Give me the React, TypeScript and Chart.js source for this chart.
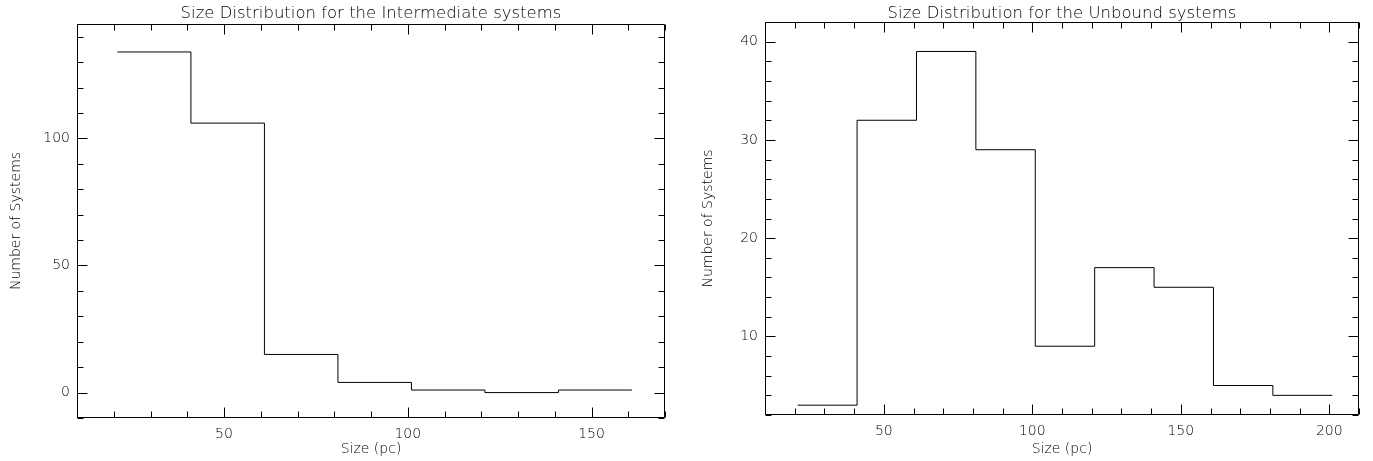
import React, { useEffect, useRef } from 'react';
import { Chart, registerables } from 'chart.js';

Chart.register(...registerables);

// ---- Data ----
const binEdgesIntermediate = [21, 41, 61, 81, 101, 121, 141, 161];
const countsIntermediate = [134, 106, 15, 4, 1, 0, 1];

const binEdgesUnbound = [21, 41, 61, 81, 101, 121, 141, 161, 181, 201];
const countsUnbound = [3, 32, 39, 29, 9, 17, 15, 5, 4];

const xTicksIntermediate = [50, 100, 150];
const yTicksIntermediate = [0, 50, 100];
const xTicksUnbound = [50, 100, 150, 200];
const yTicksUnbound = [10, 20, 30, 40];

const titleIntermediate = 'Size Distribution for the Intermediate systems';
const titleUnbound = 'Size Distribution for the Unbound systems';
const xAxisTitle = 'Size (pc)';
const yAxisTitle = 'Number of Systems';

const FONT = '"DejaVu Sans", sans-serif';
const TEXT = '#000';
const H = 461;

const framePlugin = {
  id: 'idlFrame',
  afterDraw(chart: any, _args: any, opts: any) {
    const { ctx, chartArea } = chart;
    const xs = chart.scales.x;
    const ys = chart.scales.y;
    const L = Math.round(chartArea.left) + 0.5;
    const R = Math.round(chartArea.right) - 0.5;
    const T = Math.round(chartArea.top) + 0.5;
    const B = Math.round(chartArea.bottom) - 0.5;
    ctx.save();
    ctx.strokeStyle = '#000';
    ctx.lineWidth = 1;
    ctx.beginPath();
    ctx.rect(L, T, R - L, B - T);
    const isMajor = (v: number, step: number) => Math.abs(v / step - Math.round(v / step)) < 1e-6;
    for (let v = Math.ceil(xs.min / opts.xMinor) * opts.xMinor; v <= xs.max + 1e-9; v += opts.xMinor) {
      const p = Math.round(xs.getPixelForValue(v)) + 0.5;
      const len = isMajor(v, opts.xMajor) ? 10 : 6;
      ctx.moveTo(p, B); ctx.lineTo(p, B - len);
      ctx.moveTo(p, T); ctx.lineTo(p, T + len);
    }
    for (let v = Math.ceil(ys.min / opts.yMinor) * opts.yMinor; v <= ys.max + 1e-9; v += opts.yMinor) {
      const p = Math.round(ys.getPixelForValue(v)) + 0.5;
      const len = isMajor(v, opts.yMajor) ? 10 : 6;
      ctx.moveTo(L, p); ctx.lineTo(L + len, p);
      ctx.moveTo(R, p); ctx.lineTo(R - len, p);
    }
    ctx.stroke();
    ctx.restore();
  },
};

type PanelProps = {
  title: string;
  edges: number[];
  counts: number[];
  xRange: [number, number];
  yRange: [number, number];
  xTicks: number[];
  yTicks: number[];
  xMinor: number;
  xMajor: number;
  yMinor: number;
  yMajor: number;
  canvasLeft: number;
  canvasWidth: number;
  areaLeft: number;
  areaRight: number;
  areaTop: number;
  areaBottom: number;
  yTitleX: number;
};

function Panel(p: PanelProps) {
  const ref = useRef<HTMLCanvasElement | null>(null);
  useEffect(() => {
    if (!ref.current) return;
    const points = p.counts.map((c, i) => ({ x: p.edges[i], y: c }));
    points.push({ x: p.edges[p.counts.length], y: p.counts[p.counts.length - 1] });
    const tickFont = { family: FONT, size: 14, lineHeight: 1.2, weight: '200' };
    const axisTitleFont = { family: FONT, size: 14, lineHeight: 1.2, weight: '200' };
    const mainTitleFont = { family: FONT, size: 16.5, lineHeight: 1.2, weight: '200' };
    const chart = new Chart(ref.current, {
      type: 'line',
      data: {
        datasets: [
          {
            data: points,
            stepped: 'before',
            borderColor: '#000',
            borderWidth: 1,
            pointRadius: 0,
            fill: false,
            tension: 0,
          } as any,
        ],
      },
      options: {
        responsive: false,
        animation: false,
        devicePixelRatio: 1,
        events: [],
        layout: { padding: { left: 0, right: p.canvasWidth - p.areaRight, top: 0, bottom: 0 } },
        plugins: {
          legend: { display: false },
          tooltip: { enabled: false },
          title: {
            display: true,
            fullSize: false,
            text: p.title,
            color: TEXT,
            font: mainTitleFont,
            padding: { top: 3.5, bottom: p.areaTop - 3.5 - 16.5 * 1.2 },
          },
          idlFrame: { xMinor: p.xMinor, xMajor: p.xMajor, yMinor: p.yMinor, yMajor: p.yMajor },
        } as any,
        scales: {
          x: {
            type: 'linear',
            min: p.xRange[0],
            max: p.xRange[1],
            grid: { display: false, drawTicks: false },
            border: { display: false },
            ticks: { autoSkip: false, maxRotation: 0, padding: 7.5, color: TEXT, font: tickFont },
            afterBuildTicks: (s: any) => {
              s.ticks = p.xTicks.map((v) => ({ value: v }));
            },
            afterFit: (s: any) => {
              s.height = H - p.areaBottom;
            },
            title: { display: true, text: xAxisTitle, color: TEXT, font: axisTitleFont, padding: { top: 0, bottom: 3.5 } },
          },
          y: {
            type: 'linear',
            min: p.yRange[0],
            max: p.yRange[1],
            grid: { display: false, drawTicks: false },
            border: { display: false },
            ticks: { autoSkip: false, padding: 7, color: TEXT, font: tickFont },
            afterBuildTicks: (s: any) => {
              s.ticks = p.yTicks.map((v) => ({ value: v }));
            },
            afterFit: (s: any) => {
              s.width = p.areaLeft;
            },
            title: { display: true, text: yAxisTitle, color: TEXT, font: axisTitleFont, padding: { top: p.yTitleX - 8.4, bottom: 0 } },
          },
        },
      } as any,
      plugins: [framePlugin],
    });
    return () => chart.destroy();
  }, []);
  return (
    <canvas
      ref={ref}
      width={p.canvasWidth}
      height={H}
      style={{ position: 'absolute', left: p.canvasLeft, top: 0, width: p.canvasWidth, height: H, display: 'block' }}
    />
  );
}

export default function App() {
  return (
    <div style={{ position: 'absolute', left: 0, top: 0, width: 1373, height: H, background: '#fff', overflow: 'hidden' }}>
      <Panel
        title={titleIntermediate}
        edges={binEdgesIntermediate}
        counts={countsIntermediate}
        xRange={[10, 170]}
        yRange={[-10, 145]}
        xTicks={xTicksIntermediate}
        yTicks={yTicksIntermediate}
        xMinor={10}
        xMajor={50}
        yMinor={10}
        yMajor={50}
        canvasLeft={0}
        canvasWidth={686}
        areaLeft={77}
        areaRight={665}
        areaTop={24}
        areaBottom={418}
        yTitleX={16}
      />
      <Panel
        title={titleUnbound}
        edges={binEdgesUnbound}
        counts={countsUnbound}
        xRange={[10, 210]}
        yRange={[2, 42]}
        xTicks={xTicksUnbound}
        yTicks={yTicksUnbound}
        xMinor={10}
        xMajor={50}
        yMinor={2}
        yMajor={10}
        canvasLeft={686}
        canvasWidth={687}
        areaLeft={79}
        areaRight={673}
        areaTop={22}
        areaBottom={415}
        yTitleX={22}
      />
    </div>
  );
}
